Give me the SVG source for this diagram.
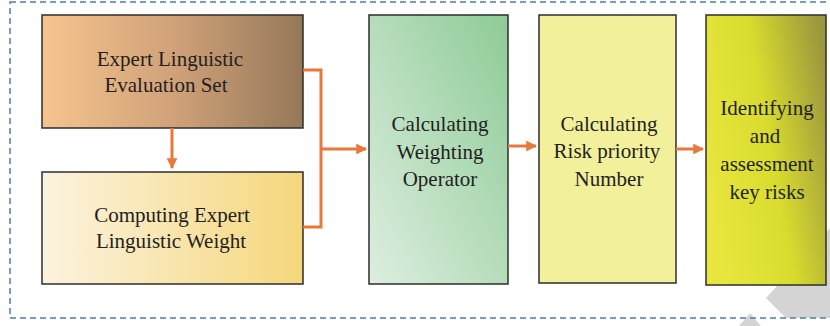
<svg xmlns="http://www.w3.org/2000/svg" width="830" height="326" viewBox="0 0 830 326">
<style>
.box{stroke:#2e2e2e;stroke-width:1.5}
.t{font-family:"Liberation Serif","Times New Roman",serif;font-size:21px;fill:#231f20;text-anchor:middle}
.c{fill:none;stroke:#e8793a;stroke-width:3}
</style>
<defs>
<linearGradient id="g1" x1="0" y1="0" x2="1" y2="0"><stop offset="0" stop-color="#f6c48e"/><stop offset="0.5" stop-color="#d1a279"/><stop offset="1" stop-color="#957859"/></linearGradient>
<linearGradient id="g2" x1="0" y1="0" x2="1" y2="0"><stop offset="0" stop-color="#fcf3df"/><stop offset="1" stop-color="#f5d77c"/></linearGradient>
<linearGradient id="g3" x1="1" y1="0" x2="0" y2="1"><stop offset="0" stop-color="#8ecb96"/><stop offset="1" stop-color="#ddeee0"/></linearGradient>
<linearGradient id="g5" x1="0" y1="0.6" x2="1" y2="0.2"><stop offset="0" stop-color="#e8e63e"/><stop offset="0.5" stop-color="#d9dc2e"/><stop offset="1" stop-color="#9c983d"/></linearGradient>
<marker id="ah" viewBox="0 0 10 10" refX="9" refY="5" markerWidth="3.6" markerHeight="3.6" orient="auto" markerUnits="strokeWidth"><path d="M0,0L10,5L0,10z" fill="#e8793a"/></marker>
</defs>
<rect width="830" height="326" fill="#fff"/>
<polygon points="830,228 766,298 786,318 830,318" fill="#d4d4d4"/>
<polygon points="739,326 750,313 761,326" fill="#d4d4d4"/>
<rect x="10" y="2" width="840" height="316" fill="none" stroke="#4a7db5" stroke-width="1.5" stroke-dasharray="6,4"/>
<g id="n1"><rect class="box" x="42" y="15" width="261" height="113" fill="url(#g1)"/><text class="t" x="170" y="66">Expert Linguistic</text><text class="t" x="166" y="92">Evaluation Set</text></g>
<g id="n2"><rect class="box" x="42" y="172" width="261" height="112" fill="url(#g2)"/><text class="t" x="172" y="222">Computing Expert</text><text class="t" x="171" y="248">Linguistic Weight</text></g>
<g id="n3"><rect class="box" x="369" y="15" width="139" height="269" fill="url(#g3)"/><text class="t" x="440" y="131">Calculating</text><text class="t" x="440" y="159">Weighting</text><text class="t" x="440" y="186">Operator</text></g>
<g id="n4"><rect class="box" x="539" y="15" width="137" height="268" fill="#f2f09a"/><text class="t" x="609" y="131">Calculating</text><text class="t" x="607" y="158">Risk priority</text><text class="t" x="609" y="186">Number</text></g>
<g id="n5"><rect class="box" x="706" y="15" width="120" height="270" fill="url(#g5)"/><text class="t" x="767" y="115">Identifying</text><text class="t" x="765" y="143">and</text><text class="t" x="767" y="171">assessment</text><text class="t" x="767" y="199">key risks</text></g>
<g id="connectors">
<path class="c" d="M172,128V168" marker-end="url(#ah)"/>
<path class="c" d="M303,70H321V227H303"/>
<path class="c" d="M321,149H366" marker-end="url(#ah)"/>
<path class="c" d="M508,146H536" marker-end="url(#ah)"/>
<path class="c" d="M676,149H703" marker-end="url(#ah)"/>
</g>
</svg>
